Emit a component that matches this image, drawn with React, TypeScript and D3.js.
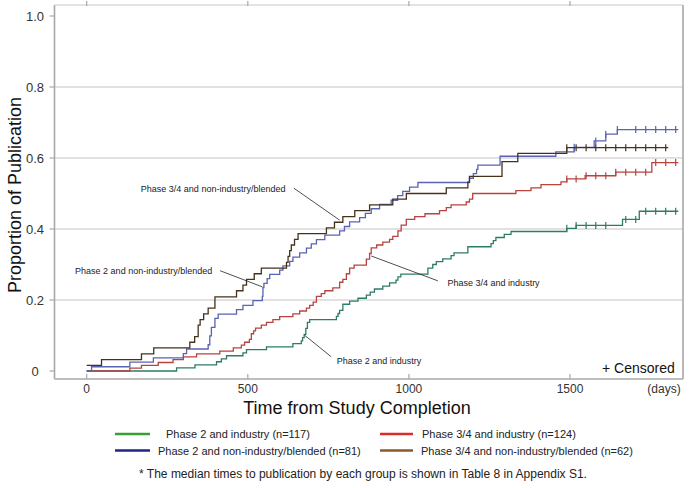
import React from 'react';
import * as d3 from 'd3';

const W = 689;
const H = 488;

// ---- axes ----
const xTicks = [0, 500, 1000, 1500];
const xTickLabels = ['0', '500', '1000', '1500'];
const yTicks = [0, 0.2, 0.4, 0.6, 0.8, 1.0];
const yTickLabels = ['0', '0.2', '0.4', '0.6', '0.8', '1.0'];
const gridValues = [0.2, 0.4, 0.6, 0.8];

// ---- series: Phase 2 and industry (n=117) ----
const greenDays = [0, 279, 336, 403, 418, 434, 485, 496, 558, 640, 666, 670, 675, 680, 685, 692, 775, 780, 785, 795, 816, 842, 868, 880, 893, 919, 940, 960, 966, 975, 1059, 1074, 1085, 1105, 1131, 1140, 1183, 1255, 1262, 1270, 1296, 1317, 1490, 1519, 1663, 1715];
const greenProps = [0, 0.009, 0.017, 0.026, 0.034, 0.043, 0.051, 0.06, 0.068, 0.077, 0.085, 0.094, 0.103, 0.12, 0.137, 0.145, 0.154, 0.162, 0.171, 0.188, 0.197, 0.205, 0.214, 0.222, 0.231, 0.239, 0.248, 0.256, 0.265, 0.273, 0.29, 0.3, 0.308, 0.316, 0.325, 0.333, 0.35, 0.359, 0.367, 0.376, 0.385, 0.393, 0.402, 0.41, 0.427, 0.45];
const greenCensor = [1490, 1519, 1550, 1580, 1611, 1673, 1704, 1735, 1766, 1797, 1828];
const greenEnd = 1836;

// ---- series: Phase 3/4 and industry (n=124) ----
const redDays = [0, 134, 170, 222, 268, 300, 341, 413, 455, 480, 490, 505, 511, 518, 524, 542, 558, 578, 599, 640, 661, 682, 692, 703, 713, 728, 739, 764, 785, 795, 806, 816, 830, 868, 878, 883, 900, 919, 940, 950, 966, 976, 992, 1018, 1050, 1095, 1116, 1131, 1178, 1188, 1198, 1332, 1379, 1410, 1472, 1490, 1547, 1642, 1754];
const redProps = [0, 0.008, 0.016, 0.024, 0.032, 0.04, 0.048, 0.056, 0.065, 0.073, 0.081, 0.089, 0.105, 0.113, 0.121, 0.129, 0.137, 0.145, 0.153, 0.161, 0.169, 0.177, 0.185, 0.194, 0.21, 0.218, 0.226, 0.234, 0.25, 0.258, 0.274, 0.29, 0.298, 0.315, 0.331, 0.347, 0.355, 0.363, 0.371, 0.379, 0.395, 0.411, 0.427, 0.435, 0.443, 0.452, 0.46, 0.468, 0.476, 0.484, 0.5, 0.508, 0.516, 0.525, 0.533, 0.541, 0.55, 0.56, 0.587];
const redCensor = [1490, 1519, 1550, 1580, 1611, 1642, 1673, 1704, 1735, 1766, 1797, 1828];
const redEnd = 1836;

// ---- series: Phase 2 and non-industry/blended (n=81) ----
const blueDays = [0, 15, 134, 207, 300, 310, 377, 382, 387, 398, 408, 465, 485, 516, 545, 547, 550, 560, 568, 599, 609, 630, 640, 661, 682, 697, 713, 739, 785, 800, 816, 847, 865, 883, 909, 945, 965, 981, 1002, 1028, 1188, 1200, 1210, 1214, 1283, 1456, 1513, 1575, 1611, 1647];
const blueProps = [0, 0.012, 0.025, 0.037, 0.049, 0.062, 0.074, 0.099, 0.123, 0.148, 0.16, 0.173, 0.185, 0.198, 0.21, 0.235, 0.247, 0.26, 0.272, 0.284, 0.296, 0.309, 0.321, 0.333, 0.346, 0.358, 0.37, 0.383, 0.395, 0.407, 0.42, 0.432, 0.444, 0.457, 0.469, 0.481, 0.494, 0.506, 0.518, 0.531, 0.543, 0.556, 0.568, 0.58, 0.605, 0.617, 0.63, 0.648, 0.667, 0.68];
const blueCensor = [1513, 1580, 1611, 1647, 1704, 1735, 1766, 1797, 1828];
const blueEnd = 1836;

// ---- series: Phase 3/4 and non-industry/blended (n=62) ----
const brownDays = [0, 46, 170, 208, 320, 335, 346, 352, 363, 377, 398, 465, 485, 496, 520, 542, 620, 625, 630, 635, 645, 656, 744, 769, 795, 832, 878, 950, 992, 1116, 1183, 1188, 1289, 1338, 1490];
const brownProps = [0.016, 0.032, 0.048, 0.065, 0.081, 0.097, 0.129, 0.145, 0.161, 0.177, 0.209, 0.226, 0.242, 0.258, 0.274, 0.29, 0.306, 0.323, 0.339, 0.355, 0.371, 0.387, 0.403, 0.419, 0.435, 0.452, 0.468, 0.484, 0.5, 0.516, 0.532, 0.548, 0.59, 0.613, 0.629];
const brownCensor = [1490, 1519, 1550, 1580, 1611, 1642, 1673, 1704, 1735, 1766, 1797];
const brownEnd = 1805;

// ---- legend ----
const legendLabels = [
  'Phase 2 and industry (n=117)',
  'Phase 2 and non-industry/blended (n=81)',
  'Phase 3/4 and industry (n=124)',
  'Phase 3/4 and non-industry/blended (n=62)',
];

// ---- annotations (text anchor and pointer ends in data units) ----
const annoLabels = [
  'Phase 3/4 and non-industry/blended',
  'Phase 2 and non-industry/blended',
  'Phase 3/4 and industry',
  'Phase 2 and industry',
];
const annoTextDay = [168, -36, 1120, 776];
const annoTextProp = [0.503, 0.272, 0.2386, 0.019];
const annoFromDay = [643, 414, 1090, 759];
const annoFromProp = [0.515, 0.2825, 0.254, 0.04];
const annoToDay = [785, 545, 883, 676];
const annoToProp = [0.425, 0.237, 0.324, 0.101];

const FONT = '"Liberation Sans", Arial, Helvetica, sans-serif';

export default function App() {
  const x = d3.scaleLinear().domain([0, 1500]).range([86.7, 570]);
  const y = d3.scaleLinear().domain([0, 1]).range([371, 16]);

  const left = 54.5, right = 683, top = 5, bottom = 379;

  const series = [
    { days: greenDays, props: greenProps, censor: greenCensor, end: greenEnd, color: '#2e7b68' },
    { days: redDays, props: redProps, censor: redCensor, end: redEnd, color: '#b8433f' },
    { days: blueDays, props: blueProps, censor: blueCensor, end: blueEnd, color: '#5a63b2' },
    { days: brownDays, props: brownProps, censor: brownCensor, end: brownEnd, color: '#45321d' },
  ];

  const line = d3
    .line<[number, number]>()
    .x((d) => x(d[0]))
    .y((d) => y(d[1]))
    .curve(d3.curveStepAfter);

  const valueAt = (days: number[], props: number[], t: number) => {
    let v = props[0];
    for (let i = 0; i < days.length; i++) if (days[i] <= t) v = props[i];
    return v;
  };

  const legendColors = ['#36a036', '#1c2788', '#e02a2a', '#8a5a2c'];
  const legendLineX = [115, 115, 380, 380];
  const legendLineW = [35, 35, 33, 33];
  const legendTextX = [166, 158, 422, 421];
  const legendY = [434, 450.5, 434, 450.5];

  return (
    <svg
      width={W}
      height={H}
      style={{ position: 'absolute', left: 0, top: 0, background: '#fff' }}
      fontFamily={FONT}
    >
      <rect x={0} y={0} width={W} height={H} fill="#fff" />
      {/* grid */}
      {gridValues.map((g) => (
        <line key={g} x1={left} x2={right} y1={y(g)} y2={y(g)} stroke="#c4c4c4" strokeWidth={1.2} />
      ))}
      {/* frame */}
      <line x1={left} x2={left} y1={top} y2={bottom} stroke="#a8a8a8" strokeWidth={1.6} />
      <line x1={right} x2={right} y1={top} y2={bottom} stroke="#a8a8a8" strokeWidth={1.6} />
      <line x1={left} x2={right} y1={bottom} y2={bottom} stroke="#a8a8a8" strokeWidth={1.6} />
      <line x1={left} x2={right} y1={top} y2={top} stroke="#c8c8c8" strokeWidth={1} />
      {/* y ticks */}
      {yTicks.map((t, i) => (
        <g key={t}>
          <line x1={left - 5} x2={left} y1={y(t)} y2={y(t)} stroke="#a8a8a8" strokeWidth={1.2} />
          <text x={35} y={y(t) + 4.5} fontSize={13} textAnchor="middle" fill="#333">
            {yTickLabels[i]}
          </text>
        </g>
      ))}
      {/* x ticks */}
      {xTicks.map((t, i) => (
        <g key={t}>
          <line x1={x(t)} x2={x(t)} y1={bottom - 5} y2={bottom} stroke="#a8a8a8" strokeWidth={1.2} />
          <line x1={x(t)} x2={x(t)} y1={top - 4} y2={top + 1} stroke="#a8a8a8" strokeWidth={1.2} />
          <text x={x(t)} y={393} fontSize={12} textAnchor="middle" fill="#333">
            {xTickLabels[i]}
          </text>
        </g>
      ))}
      <text x={664} y={393} fontSize={12} textAnchor="middle" fill="#333">(days)</text>

      {/* titles */}
      <text x={357} y={414} fontSize={18} textAnchor="middle" fill="#111">
        Time from Study Completion
      </text>
      <text transform="translate(21,195) rotate(-90)" fontSize={18} textAnchor="middle" fill="#111">
        Proportion of Publication
      </text>

      {/* curves */}
      {series.map((s, i) => {
        const pts: [number, number][] = s.days.map((d, j) => [d, s.props[j]] as [number, number]);
        pts.push([s.end, s.props[s.props.length - 1]]);
        return (
          <g key={i}>
            <path d={line(pts) || ''} fill="none" stroke={s.color} strokeWidth={1.3} />
            {s.censor.map((c) => {
              const v = valueAt(s.days, s.props, c);
              return (
                <line key={c} x1={x(c)} x2={x(c)} y1={y(v) - 3.5} y2={y(v) + 3.5} stroke={s.color} strokeWidth={1.2} />
              );
            })}
          </g>
        );
      })}

      {/* annotations */}
      {annoLabels.map((lab, i) => (
        <g key={lab}>
          <line
            x1={x(annoFromDay[i])}
            y1={y(annoFromProp[i])}
            x2={x(annoToDay[i])}
            y2={y(annoToProp[i])}
            stroke="#222"
            strokeWidth={0.8}
          />
          <text x={x(annoTextDay[i])} y={y(annoTextProp[i])} fontSize={9} fill="#222">
            {lab}
          </text>
        </g>
      ))}

      <text x={602} y={373} fontSize={14} fill="#111">+ Censored</text>

      {/* legend */}
      {legendLabels.map((lab, i) => (
        <g key={lab}>
          <line
            x1={legendLineX[i]}
            x2={legendLineX[i] + legendLineW[i]}
            y1={legendY[i]}
            y2={legendY[i]}
            stroke={legendColors[i]}
            strokeWidth={2.5}
          />
          <text x={legendTextX[i]} y={legendY[i] + 4} fontSize={11} fill="#222">
            {lab}
          </text>
        </g>
      ))}

      <text x={363} y={478} fontSize={12} textAnchor="middle" fill="#222">
        * The median times to publication by each group is shown in Table 8 in Appendix S1.
      </text>
    </svg>
  );
}
